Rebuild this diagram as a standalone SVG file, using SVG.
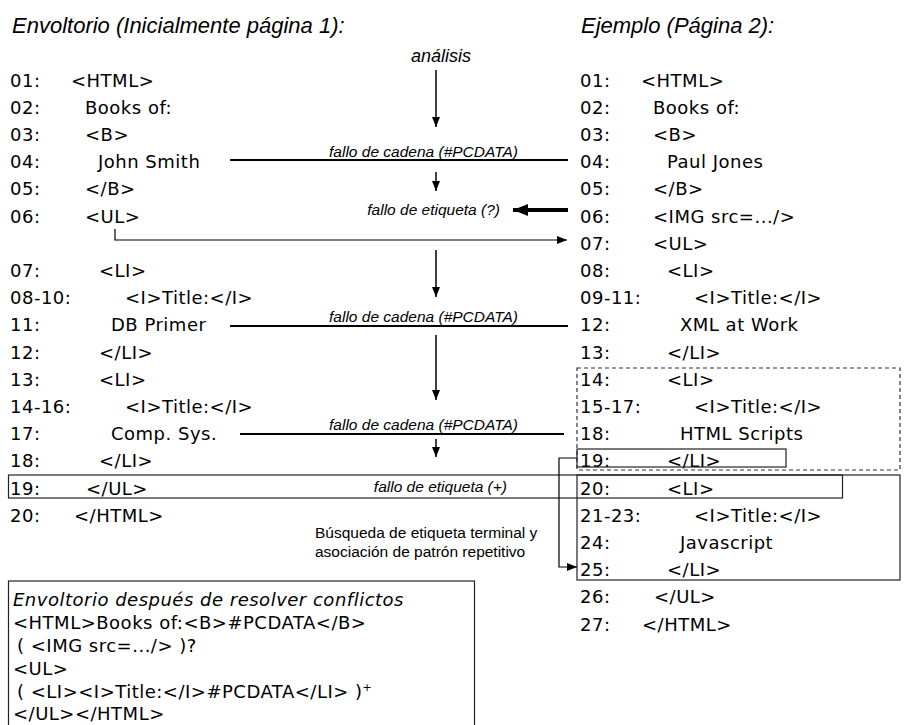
<svg xmlns="http://www.w3.org/2000/svg" width="913" height="725" viewBox="0 0 913 725">
  <style>
    .head { font-family: "Liberation Sans", Arial, sans-serif; font-style: italic; font-size: 22px; fill: #000; }
    .code { font-family: "DejaVu Sans", Verdana, sans-serif; font-size: 18px; letter-spacing: 0.5px; fill: #000; }
    .note { font-family: "Liberation Sans", Arial, sans-serif; font-style: italic; font-size: 15.5px; fill: #000; }
    .plain { font-family: "Liberation Sans", Arial, sans-serif; font-size: 15.5px; fill: #000; }
    .lbl { font-family: "Liberation Sans", Arial, sans-serif; font-style: italic; font-size: 18px; fill: #000; }
    .box { fill: none; stroke: #222; stroke-width: 1.2; }
    .dash { fill: none; stroke: #333; stroke-width: 1.2; stroke-dasharray: 4 3; }
    .wire { fill: none; stroke: #000; }
  </style>
  <defs>
    <marker id="arrow" viewBox="0 0 10 8" refX="10" refY="4" markerWidth="10" markerHeight="8" markerUnits="userSpaceOnUse" orient="auto">
      <path d="M0,0 L10,4 L0,8 z" fill="#000"/>
    </marker>
    <marker id="arrow-bold" viewBox="0 0 15 12" refX="15" refY="6" markerWidth="15" markerHeight="12" markerUnits="userSpaceOnUse" orient="auto">
      <path d="M0,0 L15,6 L0,12 z" fill="#000"/>
    </marker>
  </defs>

  <rect width="913" height="725" fill="#fff"/>

  <!-- column headings -->
  <g id="heading-wrapper"><text class="head" x="12" y="33">Envoltorio (Inicialmente página 1):</text></g>
  <g id="heading-example"><text class="head" x="581" y="33">Ejemplo (Página 2):</text></g>

  <!-- page 1 listing (row pitch 27.2, baseline = centre + 6.5) -->
  <g id="page1" class="code">
    <g id="p1-01"><text x="10" y="86.5">01:</text><text x="71" y="86.5">&lt;HTML&gt;</text></g>
    <g id="p1-02"><text x="10" y="113.7">02:</text><text x="85" y="113.7">Books of:</text></g>
    <g id="p1-03"><text x="10" y="140.9">03:</text><text x="85" y="140.9">&lt;B&gt;</text></g>
    <g id="p1-04"><text x="10" y="168.1">04:</text><text x="98" y="168.1">John Smith</text></g>
    <g id="p1-05"><text x="10" y="195.3">05:</text><text x="85" y="195.3">&lt;/B&gt;</text></g>
    <g id="p1-06"><text x="10" y="222.5">06:</text><text x="85" y="222.5">&lt;UL&gt;</text></g>
    <g id="p1-07"><text x="10" y="276.9">07:</text><text x="99" y="276.9">&lt;LI&gt;</text></g>
    <g id="p1-08"><text x="10" y="304.1">08-10:</text><text x="125" y="304.1">&lt;I&gt;Title:&lt;/I&gt;</text></g>
    <g id="p1-11"><text x="10" y="331.3">11:</text><text x="111" y="331.3">DB Primer</text></g>
    <g id="p1-12"><text x="10" y="358.5">12:</text><text x="99" y="358.5">&lt;/LI&gt;</text></g>
    <g id="p1-13"><text x="10" y="385.7">13:</text><text x="99" y="385.7">&lt;LI&gt;</text></g>
    <g id="p1-14"><text x="10" y="412.9">14-16:</text><text x="125" y="412.9">&lt;I&gt;Title:&lt;/I&gt;</text></g>
    <g id="p1-17"><text x="10" y="440.1">17:</text><text x="111" y="440.1">Comp. Sys.</text></g>
    <g id="p1-18"><text x="10" y="467.3">18:</text><text x="99" y="467.3">&lt;/LI&gt;</text></g>
    <g id="p1-19"><text x="10" y="494.5">19:</text><text x="86" y="494.5">&lt;/UL&gt;</text></g>
    <g id="p1-20"><text x="10" y="521.7">20:</text><text x="74" y="521.7">&lt;/HTML&gt;</text></g>
  </g>

  <!-- page 2 listing -->
  <g id="page2" class="code">
    <g id="p2-01"><text x="580" y="86.5">01:</text><text x="641" y="86.5">&lt;HTML&gt;</text></g>
    <g id="p2-02"><text x="580" y="113.7">02:</text><text x="653" y="113.7">Books of:</text></g>
    <g id="p2-03"><text x="580" y="140.9">03:</text><text x="653" y="140.9">&lt;B&gt;</text></g>
    <g id="p2-04"><text x="580" y="168.1">04:</text><text x="667" y="168.1">Paul Jones</text></g>
    <g id="p2-05"><text x="580" y="195.3">05:</text><text x="653" y="195.3">&lt;/B&gt;</text></g>
    <g id="p2-06"><text x="580" y="222.5">06:</text><text x="653" y="222.5">&lt;IMG src=.../&gt;</text></g>
    <g id="p2-07"><text x="580" y="249.7">07:</text><text x="653" y="249.7">&lt;UL&gt;</text></g>
    <g id="p2-08"><text x="580" y="276.9">08:</text><text x="667" y="276.9">&lt;LI&gt;</text></g>
    <g id="p2-09"><text x="580" y="304.1">09-11:</text><text x="694" y="304.1">&lt;I&gt;Title:&lt;/I&gt;</text></g>
    <g id="p2-12"><text x="580" y="331.3">12:</text><text x="680" y="331.3">XML at Work</text></g>
    <g id="p2-13"><text x="580" y="358.5">13:</text><text x="667" y="358.5">&lt;/LI&gt;</text></g>
    <g id="p2-14"><text x="580" y="385.7">14:</text><text x="667" y="385.7">&lt;LI&gt;</text></g>
    <g id="p2-15"><text x="580" y="412.9">15-17:</text><text x="694" y="412.9">&lt;I&gt;Title:&lt;/I&gt;</text></g>
    <g id="p2-18"><text x="580" y="440.1">18:</text><text x="680" y="440.1">HTML Scripts</text></g>
    <g id="p2-19"><text x="580" y="467.3">19:</text><text x="667" y="467.3">&lt;/LI&gt;</text></g>
    <g id="p2-20"><text x="580" y="494.5">20:</text><text x="667" y="494.5">&lt;LI&gt;</text></g>
    <g id="p2-21"><text x="580" y="521.7">21-23:</text><text x="694" y="521.7">&lt;I&gt;Title:&lt;/I&gt;</text></g>
    <g id="p2-24"><text x="580" y="548.9">24:</text><text x="680" y="548.9">Javascript</text></g>
    <g id="p2-25"><text x="580" y="576.1">25:</text><text x="667" y="576.1">&lt;/LI&gt;</text></g>
    <g id="p2-26"><text x="580" y="603.3">26:</text><text x="654" y="603.3">&lt;/UL&gt;</text></g>
    <g id="p2-27"><text x="580" y="630.5">27:</text><text x="642" y="630.5">&lt;/HTML&gt;</text></g>
  </g>

  <!-- highlight frames -->
  <g id="frame-repeat-candidate"><rect class="dash" x="577" y="368" width="323" height="102"/></g>
  <g id="frame-terminal-19"><rect class="box" x="577" y="449" width="209" height="18"/></g>
  <g id="frame-mismatch-19"><rect class="box" x="8.5" y="475" width="834" height="23"/></g>
  <g id="frame-repeat-square"><rect class="box" x="577" y="475" width="323" height="105"/></g>

  <!-- annotations -->
  <g id="label-analysis"><text class="lbl" x="441" y="62" text-anchor="middle">análisis</text></g>
  <g id="label-string-1"><text class="note" x="518" y="156.5" text-anchor="end">fallo de cadena (#PCDATA)</text></g>
  <g id="label-tag-1"><text class="note" x="500" y="215" text-anchor="end">fallo de etiqueta (?)</text></g>
  <g id="label-string-2"><text class="note" x="518" y="321.5" text-anchor="end">fallo de cadena (#PCDATA)</text></g>
  <g id="label-string-3"><text class="note" x="518" y="429.5" text-anchor="end">fallo de cadena (#PCDATA)</text></g>
  <g id="label-tag-2"><text class="note" x="507" y="492" text-anchor="end">fallo de etiqueta (+)</text></g>
  <g id="label-search">
    <text class="plain" x="315" y="538">Búsqueda de etiqueta terminal y</text>
    <text class="plain" x="315" y="557">asociación de patrón repetitivo</text>
  </g>

  <!-- resulting wrapper -->
  <g id="result-wrapper">
    <rect class="box" x="8.5" y="581" width="466" height="160"/>
    <g class="code">
      <text x="13" y="606" font-style="italic">Envoltorio después de resolver conflictos</text>
      <text x="13" y="629">&lt;HTML&gt;Books of:&lt;B&gt;#PCDATA&lt;/B&gt;</text>
      <text x="17" y="652">( &lt;IMG src=.../&gt; )?</text>
      <text x="13" y="675">&lt;UL&gt;</text>
      <text x="17" y="698">( &lt;LI&gt;&lt;I&gt;Title:&lt;/I&gt;#PCDATA&lt;/LI&gt; )<tspan font-size="11" dy="-7">+</tspan></text>
      <text x="13" y="720">&lt;/UL&gt;&lt;/HTML&gt;</text>
    </g>
  </g>

  <!-- connectors -->
  <g id="connectors" class="wire">
    <path d="M436,70 V127" stroke-width="1.5" marker-end="url(#arrow)"/>
    <path d="M230,160 H568" stroke-width="2"/>
    <path d="M436,172 V191" stroke-width="1.5" marker-end="url(#arrow)"/>
    <path d="M568,210 H513" stroke-width="4" marker-end="url(#arrow-bold)"/>
    <path d="M115,229 V240 H567" stroke-width="1.2" marker-end="url(#arrow)"/>
    <path d="M436,250 V297" stroke-width="1.5" marker-end="url(#arrow)"/>
    <path d="M230,326 H568" stroke-width="2"/>
    <path d="M436,335 V400" stroke-width="1.5" marker-end="url(#arrow)"/>
    <path d="M240,434 H564" stroke-width="2"/>
    <path d="M436,439 V457" stroke-width="1.5" marker-end="url(#arrow)"/>
    <path d="M577,458 H559 V567 H577" stroke-width="1.2" marker-end="url(#arrow)"/>
  </g>
</svg>
